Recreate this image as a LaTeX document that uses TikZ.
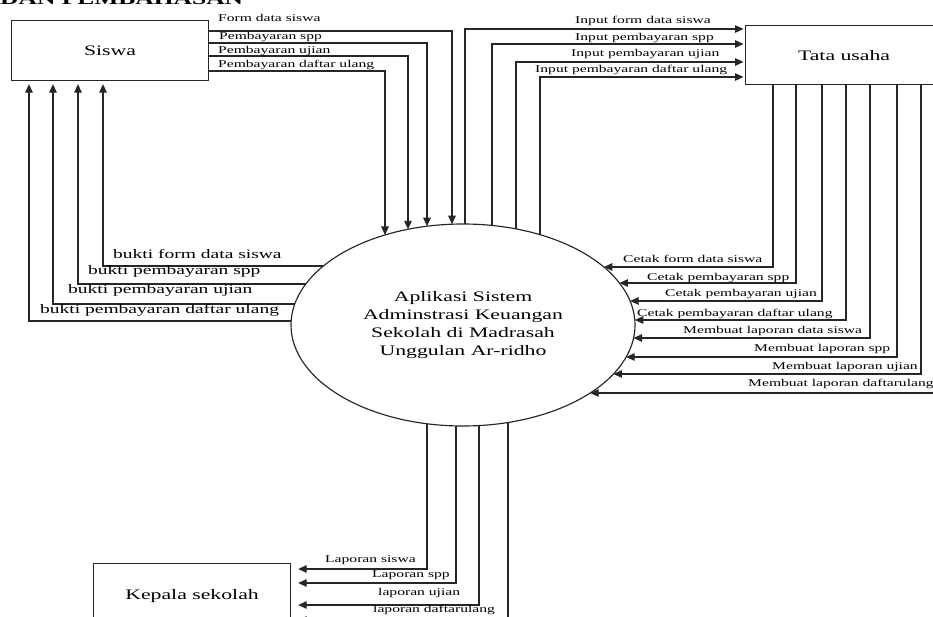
\documentclass[tikz,border=0pt]{standalone}
\usepackage{fontspec}
\setmainfont{Liberation Serif}[FakeStretch=1.5]
\usetikzlibrary{arrows.meta,shapes.geometric,calc}
\begin{document}
\begin{tikzpicture}[x=1pt,y=-1pt,
  line/.style={line width=1.15pt, draw=black!85},
  arr/.style={line, -{Triangle[length=8.5pt,width=7.5pt]}},
  box/.style={draw=black!85, line width=1.15pt, rectangle, inner sep=0pt, font=\fontsize{14.5}{18}\selectfont},
  lbl/.style={font=\fontsize{10.4}{12}\selectfont, inner sep=0pt, anchor=base west},
  blbl/.style={font=\fontsize{13}{15}\selectfont, inner sep=0pt, anchor=base west},
]
\def\cx{463}\def\cy{325}\def\rx{172}\def\ry{101}
\useasboundingbox (0,0) rectangle (933,617);
\clip (0,0) rectangle (933,617);
\fill[white] (0,0) rectangle (933,617);

% partial page title
\node[inner sep=0pt, anchor=base west, font=\bfseries\fontsize{17}{20}\selectfont] (title) at (0,5) {DAN PEMBAHASAN};

% entities
\node[box, minimum width=197pt, minimum height=60pt, anchor=north west] (siswa) at (11,20) {Siswa};
\node[box, minimum width=200pt, minimum height=59pt, anchor=north west] (tu) at (745,25) {\hspace*{-3pt}Tata usaha};
\node[box, minimum width=197pt, minimum height=64pt, anchor=north west] (kepala) at (93,563) {Kepala sekolah};

% process
\node[ellipse, draw=black!85, line width=1.15pt, minimum width=344pt, minimum height=202pt, inner sep=0pt,
      align=center, font=\fontsize{14.5}{18}\selectfont] (app) at (\cx,\cy)
  {Aplikasi Sistem\\Adminstrasi Keuangan\\Sekolah di Madrasah\\Unggulan Ar-ridho};

% Siswa -> app
\foreach \y/\x in {31/452, 43/427, 56/408, 71/385}{
  \pgfmathsetmacro\ey{\cy-\ry*sqrt(1-((\x-\cx)/\rx)^2)}
  \coordinate (t) at (\x,\ey);
  \draw[arr] (siswa.east |- 0,\y) -| (t);
}
\node[lbl] (l1) at (218,22) {Form data siswa};
\node[lbl] (l2) at (219,40) {Pembayaran spp};
\node[lbl] (l3) at (218,54) {Pembayaran ujian};
\node[lbl] (l4) at (218,68) {Pembayaran daftar ulang};

% app -> Tata usaha
\foreach \x/\y in {465/29, 492/44, 516/62, 540/77}{
  \pgfmathsetmacro\ey{\cy-\ry*sqrt(1-((\x-\cx)/\rx)^2)}
  \coordinate (b) at (\x,\ey);
  \draw[arr, shorten >=1.5pt] (b) |- (tu.west |- 0,\y);
}
\node[lbl] (i1) at (575,24) {Input form data siswa};
\node[lbl] (i2) at (575,41) {Input pembayaran spp};
\node[lbl] (i3) at (571,57) {Input pembayaran ujian};
\node[lbl] (i4) at (535,73) {Input pembayaran daftar ulang};

% Tata usaha -> app
\foreach \x/\y in {773/267, 796/283, 822/301, 846/320, 870/338, 897/357, 921/374, 945/393}{
  \pgfmathsetmacro\ex{\cx+\rx*sqrt(1-((\y-\cy)/\ry)^2)}
  \coordinate (h) at (\ex,\y);
  \draw[arr] (tu.south -| \x,0) |- (h);
}
\node[lbl] (c1) at (623,263) {Cetak form data siswa};
\node[lbl] (c2) at (647,280) {Cetak pembayaran spp};
\node[lbl] (c3) at (665,297) {Cetak pembayaran ujian};
\node[lbl] (c4) at (637,316) {Cetak pembayaran daftar ulang};
\node[lbl] (m1) at (683,333) {Membuat laporan data siswa};
\node[lbl] (m2) at (754,351) {Membuat laporan spp};
\node[lbl] (m3) at (772,369) {Membuat laporan ujian};
\node[lbl] (m4) at (748,386) {Membuat laporan daftarulang};

% app -> Siswa (bukti)
\foreach \y/\x in {266/103, 284/78, 304/53, 321/29}{
  \pgfmathsetmacro\ex{\cx-\rx*sqrt(1-((\y-\cy)/\ry)^2)}
  \coordinate (h) at (\ex,\y);
  \draw[arr, shorten >=3pt] (h) -| (siswa.south -| \x,0);
}
\node[blbl] (b1) at (113,259) {bukti form data siswa};
\node[blbl] (b2) at (88,275) {bukti pembayaran spp};
\node[blbl] (b3) at (68,294) {bukti pembayaran ujian};
\node[blbl] (b4) at (40,313) {bukti pembayaran daftar ulang};

% app -> Kepala sekolah
\foreach \x/\y in {427/569, 456/583, 479/605, 508/620}{
  \pgfmathsetmacro\ey{\cy+\ry*sqrt(1-((\x-\cx)/\rx)^2)}
  \coordinate (b) at (\x,\ey);
  \draw[arr, shorten >=7pt] (b) |- (kepala.east |- 0,\y);
}
\node[lbl] (k1) at (325,562) {Laporan siswa};
\node[lbl] (k2) at (372,577) {Laporan spp};
\node[lbl] (k3) at (378,595) {laporan ujian};
\node[lbl] (k4) at (373,612) {laporan daftarulang};
\end{tikzpicture}
\end{document}
